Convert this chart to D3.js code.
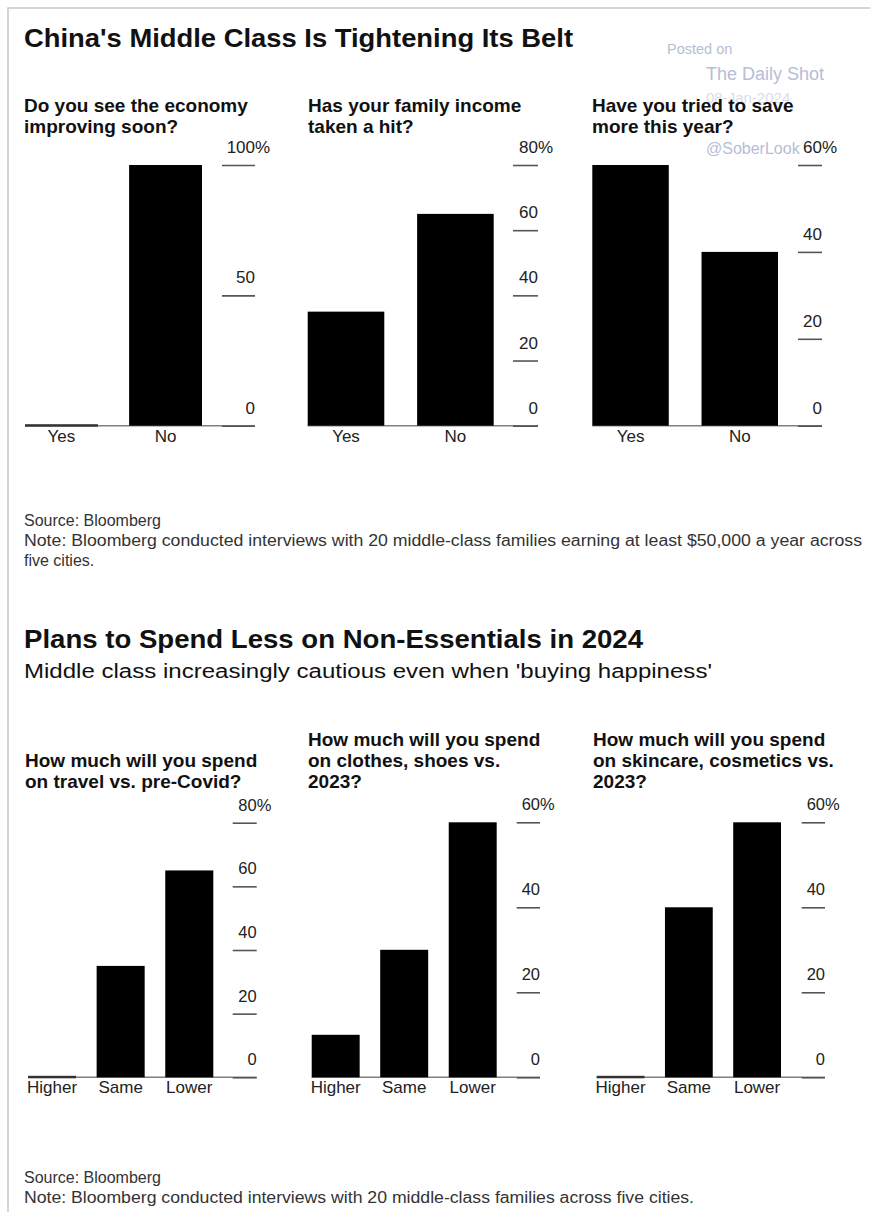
<!DOCTYPE html>
<html>
<head>
<meta charset="utf-8">
<script src="https://cdn.jsdelivr.net/npm/d3@7"></script>
<style>
  body { margin: 0; background: #fff; }
  svg text { font-family: "Liberation Sans", Arial, Helvetica, sans-serif; }
</style>
</head>
<body>
<svg id="chart" width="870" height="1212"></svg>
<script>
// ---- data ----
const yesNo = ["Yes", "No"];
const economyValues = [0, 100];
const incomeValues = [35, 65];
const saveValues = [60, 40];

const spendLevels = ["Higher", "Same", "Lower"];
const travelValues = [0, 35, 65];
const clothesValues = [10, 30, 60];
const skincareValues = [0, 40, 60];

const ticks100 = [0, 50, 100];
const ticks80 = [0, 20, 40, 60, 80];
const ticks60 = [0, 20, 40, 60];

const topQuestions = [
  ["Do you see the economy", "improving soon?"],
  ["Has your family income", "taken a hit?"],
  ["Have you tried to save", "more this year?"]
];
const bottomQuestions = [
  ["How much will you spend", "on travel vs. pre-Covid?"],
  ["How much will you spend", "on clothes, shoes vs.", "2023?"],
  ["How much will you spend", "on skincare, cosmetics vs.", "2023?"]
];

const title1 = "China's Middle Class Is Tightening Its Belt";
const note1 = ["Source: Bloomberg",
  "Note: Bloomberg conducted interviews with 20 middle-class families earning at least $50,000 a year across",
  "five cities."];
const title2 = "Plans to Spend Less on Non-Essentials in 2024";
const subtitle2 = "Middle class increasingly cautious even when 'buying happiness'";
const note2 = ["Source: Bloomberg",
  "Note: Bloomberg conducted interviews with 20 middle-class families across five cities."];

const svg = d3.select("#chart");

// frame
svg.append("path")
  .attr("d", "M8,1212 V8 H870")
  .attr("fill", "none")
  .attr("stroke", "#c8c8c8")
  .attr("stroke-width", 1.5);

// watermark
const wm = svg.append("g").attr("fill", "#b6bdd6");
wm.append("text").attr("x", 667).attr("y", 54).attr("font-size", 14.5).text("Posted on");
wm.append("text").attr("x", 706).attr("y", 80).attr("font-size", 18).text("The Daily Shot");
wm.append("text").attr("x", 706).attr("y", 103).attr("font-size", 15).attr("fill", "#dadeeb").text("08-Jan-2024");
wm.append("text").attr("x", 706).attr("y", 154).attr("font-size", 16).text("@SoberLook");

function heading(txt, x, y, size, width, weight) {
  return svg.append("text")
    .attr("x", x).attr("y", y)
    .attr("font-size", size)
    .attr("font-weight", weight || "bold")
    .attr("fill", "#111")
    .attr("textLength", width)
    .attr("lengthAdjust", "spacingAndGlyphs")
    .text(txt);
}

function drawPanel(p) {
  const g = svg.append("g");

  const x = d3.scaleBand().domain(p.cats).range(p.band).paddingInner(0.3).paddingOuter(0);
  const y = d3.scaleLinear().domain([0, d3.max(p.ticks)]).range(p.yRange);

  // question title
  p.lines.forEach((line, i) => {
    g.append("text")
      .attr("x", p.titleX)
      .attr("y", p.titleY[i + (p.titleY.length - p.lines.length)])
      .attr("font-size", 19)
      .attr("font-weight", "bold")
      .attr("fill", "#111")
      .text(line);
  });

  // baseline
  g.append("line")
    .attr("x1", p.band[0]).attr("x2", p.tickX[1])
    .attr("y1", y(0)).attr("y2", y(0))
    .attr("stroke", "#808080").attr("stroke-width", 1.5);

  // bars (zero values show as a thin dark line)
  g.selectAll("rect.bar")
    .data(p.cats.map((c, i) => ({ c, v: p.values[i] })))
    .enter().append("rect")
    .attr("class", "bar")
    .attr("x", d => x(d.c))
    .attr("width", x.bandwidth())
    .attr("y", d => d.v > 0 ? y(d.v) : y(0) - 1.5)
    .attr("height", d => d.v > 0 ? y(0) - y(d.v) : 2.5)
    .attr("fill", d => d.v > 0 ? "#000" : "#333");

  // category labels
  g.selectAll("text.cat")
    .data(p.cats)
    .enter().append("text")
    .attr("class", "cat")
    .attr("x", d => x(d) + x.bandwidth() / 2)
    .attr("y", p.catY)
    .attr("text-anchor", "middle")
    .attr("font-size", 17)
    .attr("fill", "#222")
    .text(d => d);

  // value axis on the right
  const tickLen = p.tickX[1] - p.tickX[0];
  const axis = g.append("g")
    .attr("transform", `translate(${p.tickX[0]},0)`)
    .call(d3.axisRight(y).tickValues(p.ticks).tickSize(tickLen).tickFormat(d3.format("d")));
  axis.select(".domain").remove();
  axis.selectAll(".tick line").attr("stroke", "#555").attr("stroke-width", 1.6);
  axis.selectAll(".tick text")
    .attr("x", tickLen)
    .attr("y", -12.5)
    .attr("dy", 0)
    .attr("text-anchor", "end")
    .attr("font-size", p.tickFont)
    .attr("fill", "#222");
  const top = d3.max(p.ticks);
  axis.selectAll(".tick").filter(d => d === top)
    .append("text")
    .attr("x", tickLen)
    .attr("y", -12.5)
    .attr("fill", "#222")
    .attr("font-size", p.tickFont)
    .attr("text-anchor", "start")
    .text("%");
  axis.attr("font-family", null);
}

// ---- first chart ----
heading(title1, 24, 47, 26, 549);

const topLayout = [
  { band: [25, 202], tickX: [222, 255], titleX: 24 },
  { band: [307.7, 493.7], tickX: [513, 538], titleX: 308 },
  { band: [592.3, 778], tickX: [798, 822], titleX: 592 }
];
const topValues = [economyValues, incomeValues, saveValues];
const topTicks = [ticks100, ticks80, ticks60];

topLayout.forEach((l, i) => drawPanel({
  cats: yesNo, values: topValues[i], ticks: topTicks[i],
  band: l.band, tickX: l.tickX, yRange: [425.7, 165],
  titleX: l.titleX, titleY: [111.5, 132.5], lines: topQuestions[i],
  catY: 442, tickFont: 17
}));

note1.forEach((t, i) => {
  const el = svg.append("text").attr("x", 24).attr("y", 526 + i * 20)
    .attr("font-size", 16).attr("fill", "#333").text(t);
  if (i === 1) el.attr("textLength", 838).attr("lengthAdjust", "spacingAndGlyphs");
});

// ---- second chart ----
heading(title2, 24, 648, 26, 619);
heading(subtitle2, 24, 678, 20, 688, "normal");

const bottomLayout = [
  { band: [28, 213.3], tickX: [232.7, 256.7], titleX: 25, yTop: 822.7 },
  { band: [311.7, 496.7], tickX: [516.7, 540], titleX: 308, yTop: 822.3 },
  { band: [596.7, 781], tickX: [801.7, 825], titleX: 593, yTop: 822.3 }
];
const bottomValues = [travelValues, clothesValues, skincareValues];
const bottomTicks = [ticks80, ticks60, ticks60];

bottomLayout.forEach((l, i) => drawPanel({
  cats: spendLevels, values: bottomValues[i], ticks: bottomTicks[i],
  band: l.band, tickX: l.tickX, yRange: [1077.3, l.yTop],
  titleX: l.titleX, titleY: [746, 767, 788], lines: bottomQuestions[i],
  catY: 1093, tickFont: 16.5
}));

note2.forEach((t, i) => {
  const el = svg.append("text").attr("x", 24).attr("y", 1183 + i * 20)
    .attr("font-size", 16).attr("fill", "#333").text(t);
  if (i === 1) el.attr("textLength", 670).attr("lengthAdjust", "spacingAndGlyphs");
});
</script>
</body>
</html>
